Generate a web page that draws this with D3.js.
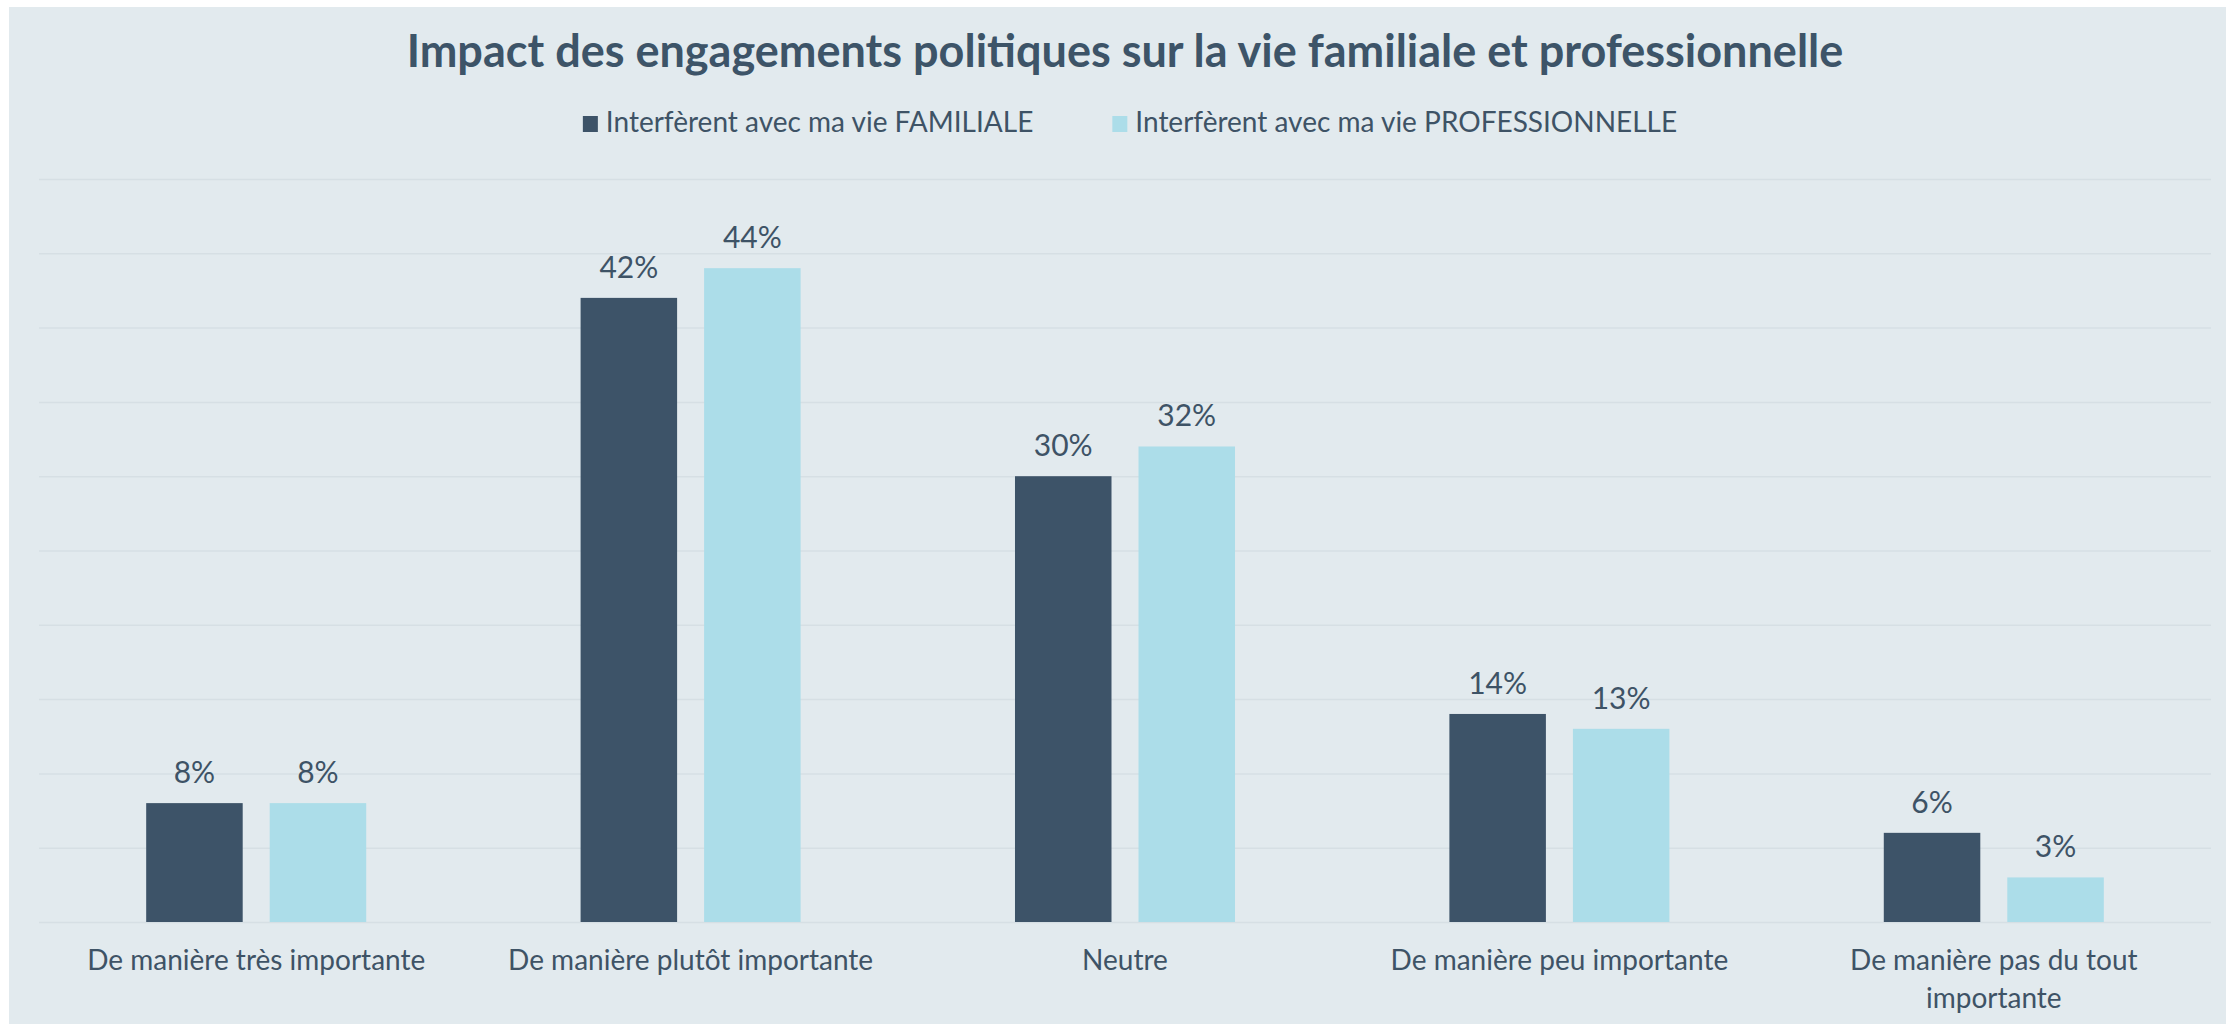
<!DOCTYPE html>
<html>
<head>
<meta charset="utf-8">
<script src="https://cdn.jsdelivr.net/npm/d3@7"></script>
<style>
  body { margin: 0; background: #fff; }
  svg { display: block; font-family: Lato, "Open Sans", sans-serif; }
</style>
</head>
<body>
<div id="chart"></div>
<script>
// Data
const categories = [
    "De manière très importante",
    "De manière plutôt importante",
    "Neutre",
    "De manière peu importante",
    "De manière pas du tout importante"
];
const seriesNames = [
    "Interfèrent avec ma vie FAMILIALE",
    "Interfèrent avec ma vie PROFESSIONNELLE"
];
const familiale = [8, 42, 30, 14, 6];
const professionnelle = [8, 44, 32, 13, 3];
const yTicks = [0, 5, 10, 15, 20, 25, 30, 35, 40, 45, 50];

const width = 2226, height = 1024;
const margin = { top: 179, right: 15, bottom: 102, left: 39 };
const innerWidth = width - margin.left - margin.right;
const innerHeight = height - margin.top - margin.bottom;

const textColor = "#3e5366";
const colors = ["#3d5368", "#acdde9"];

// flat list of bars: one entry per category x series
const bars = [];
categories.forEach((c, i) => {
    bars.push({ cat: c, s: 0, v: familiale[i] });
    bars.push({ cat: c, s: 1, v: professionnelle[i] });
});

const svg = d3.select("#chart")
    .append("svg")
    .attr("width", width)
    .attr("height", height);

// panel background
svg.append("rect")
    .attr("x", 9)
    .attr("y", 7)
    .attr("width", width - 9)
    .attr("height", height - 7)
    .attr("fill", "#e2eaee");

const inner = svg.append("g")
    .attr("transform", `translate(${margin.left},${margin.top})`);

// Scales
const x0 = d3.scaleBand()
    .domain(categories)
    .range([0, innerWidth])
    .paddingInner(0.4935)
    .paddingOuter(0.4935 / 2);

const x1 = d3.scaleBand()
    .domain([0, 1])
    .range([0, x0.bandwidth()])
    .paddingInner(0.2186);

const y = d3.scaleLinear()
    .domain([0, 50])
    .range([innerHeight, 0]);

// gridlines
inner.append("g")
    .call(d3.axisLeft(y).tickValues(yTicks).tickSize(-innerWidth).tickFormat(""))
    .call(g => g.select(".domain").remove())
    .call(g => g.selectAll(".tick text").remove())
    .call(g => g.selectAll(".tick line").attr("stroke", "#d6dfe4").attr("stroke-width", 1.5));

// bars
inner.selectAll("rect.bar")
    .data(bars)
    .join("rect")
    .attr("class", "bar")
    .attr("x", d => x0(d.cat) + x1(d.s))
    .attr("y", d => y(d.v))
    .attr("width", x1.bandwidth())
    .attr("height", d => innerHeight - y(d.v))
    .attr("fill", d => colors[d.s]);

// value labels
inner.selectAll("text.val")
    .data(bars)
    .join("text")
    .attr("class", "val")
    .attr("x", d => x0(d.cat) + x1(d.s) + x1.bandwidth() / 2)
    .attr("y", d => y(d.v) - 20)
    .attr("text-anchor", "middle")
    .attr("fill", textColor)
    .style("font-size", "30px")
    .text(d => d.v + "%");

// x axis labels (wrapped)
const xAxis = inner.append("g")
    .attr("transform", `translate(0,${innerHeight})`)
    .call(d3.axisBottom(x0).tickSize(0).tickPadding(28))
    .call(g => g.select(".domain").remove());

xAxis.selectAll("text")
    .attr("fill", textColor)
    .style("font-size", "28px")
    .style("font-family", "Lato, sans-serif")
    .call(wrap, 400);

function wrap(texts, maxWidth) {
    texts.each(function() {
        const text = d3.select(this);
        const words = text.text().split(/\s+/);
        const yAttr = text.attr("y");
        const dy = parseFloat(text.attr("dy")) || 0;
        text.text(null);
        let line = [];
        let lineNumber = 0;
        let tspan = text.append("tspan").attr("x", 0).attr("y", yAttr).attr("dy", dy + "em");
        words.forEach(word => {
            line.push(word);
            tspan.text(line.join(" "));
            if (tspan.node().getComputedTextLength() > maxWidth && line.length > 1) {
                line.pop();
                tspan.text(line.join(" "));
                line = [word];
                lineNumber++;
                tspan = text.append("tspan")
                    .attr("x", 0)
                    .attr("y", yAttr)
                    .attr("dy", (lineNumber * 1.36 + dy) + "em")
                    .text(word);
            }
        });
    });
}

// title
svg.append("text")
    .attr("x", margin.left + innerWidth / 2)
    .attr("y", 67)
    .attr("text-anchor", "middle")
    .attr("fill", "#3d5468")
    .style("font-size", "45px")
    .style("font-weight", "bold")
    .text("Impact des engagements politiques sur la vie familiale et professionnelle");

// legend
const legend = svg.append("g").attr("class", "legend");
const items = legend.selectAll("g")
    .data(seriesNames)
    .join("g");

items.append("rect")
    .attr("y", 116)
    .attr("width", 15)
    .attr("height", 16)
    .attr("fill", (d, i) => colors[i]);

items.append("text")
    .attr("x", 23)
    .attr("y", 132)
    .attr("fill", textColor)
    .style("font-size", "28px")
    .text(d => d);

let offset = 0;
const itemGap = 79;
items.each(function() {
    const w = this.getBBox().width;
    d3.select(this).attr("transform", `translate(${offset},0)`);
    offset += w + itemGap;
});
const legendWidth = offset - itemGap;
legend.attr("transform", `translate(${1130 - legendWidth / 2},0)`);
</script>
</body>
</html>
